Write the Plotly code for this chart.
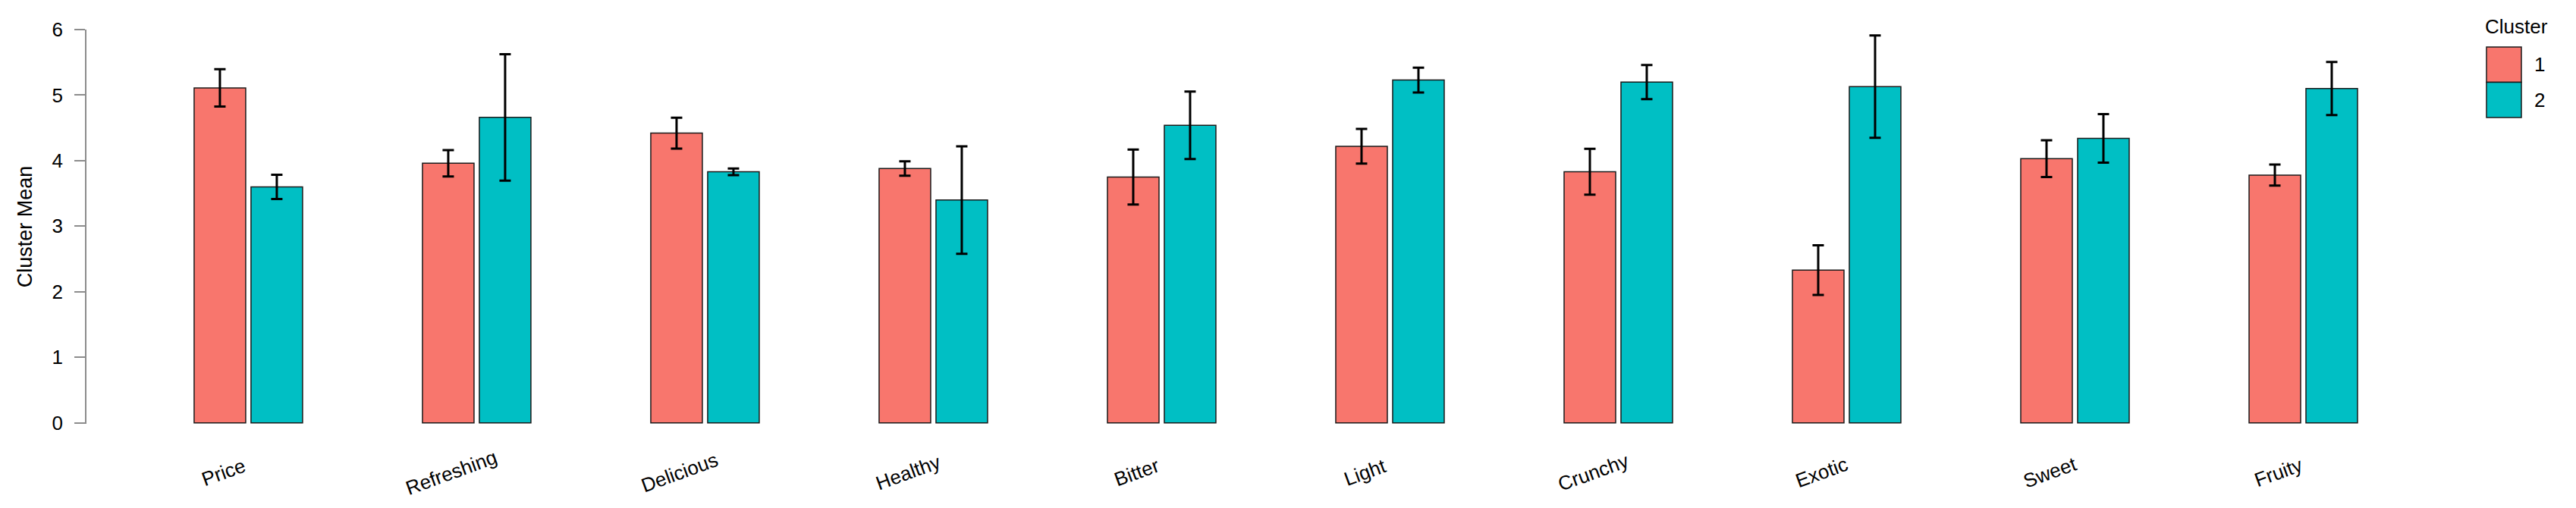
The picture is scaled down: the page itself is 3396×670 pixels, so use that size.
import plotly.graph_objects as go

categories = ["Price", "Refreshing", "Delicious", "Healthy", "Bitter",
              "Light", "Crunchy", "Exotic", "Sweet", "Fruity"]
cluster1_mean = [5.11, 3.96, 4.42, 3.88, 3.75, 4.22, 3.83, 2.33, 4.03, 3.78]
cluster1_err = [0.285, 0.20, 0.235, 0.11, 0.42, 0.265, 0.35, 0.38, 0.28, 0.16]
cluster2_mean = [3.60, 4.66, 3.83, 3.40, 4.54, 5.23, 5.20, 5.13, 4.34, 5.10]
cluster2_err = [0.185, 0.965, 0.05, 0.82, 0.515, 0.19, 0.26, 0.78, 0.37, 0.405]
series_names = ["1", "2"]
y_ticks = [0, 1, 2, 3, 4, 5, 6]

COL1 = "#F8766D"
COL2 = "#00BFC4"
FONT = "Liberation Sans, Arial, sans-serif"

W, H = 3396, 670
ML, MR, MT, MB = 114, 209, 39, 111
PW = W - ML - MR
PH = H - MT - MB


def px_x(px):
    return (px - ML) / PW


def px_y(py):
    return (H - MB - py) / PH


fig = go.Figure()
for name, vals, errs, col in [(series_names[0], cluster1_mean, cluster1_err, COL1),
                              (series_names[1], cluster2_mean, cluster2_err, COL2)]:
    fig.add_trace(go.Bar(
        x=categories, y=vals, name=name,
        marker=dict(color=col, line=dict(color="#1a1a1a", width=1.5)),
        error_y=dict(type="data", array=errs, visible=True,
                     color="black", thickness=3, width=7.5),
        showlegend=False,
    ))

annotations = []
for c in categories:
    annotations.append(dict(
        x=c, xref="x", y=0, yref="y", text=c, showarrow=False,
        textangle=-20, xanchor="center", yanchor="middle",
        xshift=-33, yshift=-65,
        font=dict(family=FONT, size=26, color="black"),
    ))

# legend (drawn manually to match large swatches)
annotations.append(dict(x=px_x(3274), y=px_y(35), xref="paper", yref="paper",
                        text="Cluster", showarrow=False, xanchor="left", yanchor="middle",
                        font=dict(family=FONT, size=26, color="black")))
shapes = []
for i, (name, col) in enumerate(zip(series_names, [COL1, COL2])):
    y0 = 62 + i * 46.5
    y1 = y0 + 46.5
    shapes.append(dict(type="rect", xref="paper", yref="paper",
                       x0=px_x(3278), x1=px_x(3324), y0=px_y(y1), y1=px_y(y0),
                       fillcolor=col, line=dict(color="#1a1a1a", width=1.5)))
    annotations.append(dict(x=px_x(3348), y=px_y((y0 + y1) / 2), xref="paper", yref="paper",
                            text=name, showarrow=False, xanchor="center", yanchor="middle",
                            font=dict(family=FONT, size=26, color="black")))

fig.update_layout(
    width=W, height=H,
    margin=dict(l=ML, r=MR, t=MT, b=MB, pad=0, autoexpand=False),
    paper_bgcolor="white", plot_bgcolor="white",
    barmode="group", bargap=0.5017, bargroupgap=0.0933,
    font=dict(family=FONT, size=26, color="black"),
    annotations=annotations, shapes=shapes,
    showlegend=False, hovermode=False,
)
fig.update_xaxes(
    type="category", range=[-0.709, 9.5], automargin=False,
    showline=False, showticklabels=False, ticks="", showgrid=False, zeroline=False,
)
fig.update_yaxes(
    range=[-0.015, 6.0], tickvals=y_ticks, automargin=False,
    showline=True, linecolor="#8c8c8c", linewidth=1.5,
    ticks="outside", ticklen=14, tickwidth=1.5, tickcolor="#8c8c8c",
    ticklabelstandoff=10,
    tickfont=dict(family=FONT, size=26, color="black"),
    showgrid=False, zeroline=False,
    title=dict(text="Cluster Mean", standoff=18,
               font=dict(family=FONT, size=27, color="black")),
)

fig.write_html("out.html", config={"displayModeBar": False},
               post_script="document.body.style.margin='0px';document.body.style.overflow='hidden';")
